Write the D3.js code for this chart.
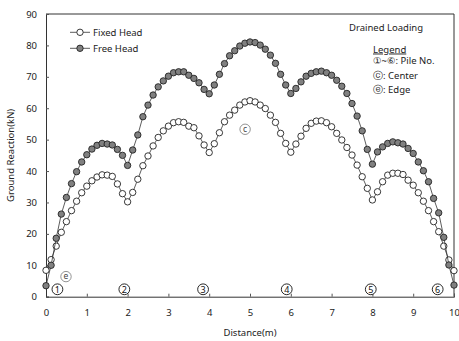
<!DOCTYPE html>
<html>
<head>
<meta charset="utf-8">
<script src="https://cdn.jsdelivr.net/npm/d3@7"></script>
<style>
  html, body { margin: 0; padding: 0; background: #fff; }
  svg { display: block; font-family: "Noto Sans", "DejaVu Sans", sans-serif; }
</style>
</head>
<body>
<svg id="chart" width="459" height="341"></svg>
<script>
// Distance along the raft (m), one node every 0.125 m
const distance = d3.range(0, 81).map(i => i * 0.125);

// Ground reaction (kN) at each node
const fixedHead = [
  8.4, 11.8, 16.1, 20.5, 23.9, 27.4, 30.4, 33.1, 35.2, 36.9,
  38.1, 38.8, 38.7, 38.3, 35.9, 32.8, 30.2, 33.2, 37.4, 41.7,
  44.8, 48.0, 50.7, 52.8, 54.3, 55.4, 55.7, 55.5, 54.3, 53.8,
  51.2, 48.3, 45.9, 48.7, 52.2, 55.7, 57.8, 59.4, 61.0, 62.0,
  62.4, 62.0, 61.0, 59.9, 57.8, 55.5, 52.0, 48.8, 46.0, 48.6,
  51.1, 53.6, 55.2, 55.9, 56.0, 55.4, 54.1, 52.0, 49.9, 47.5,
  45.1, 41.9, 38.2, 34.5, 30.8, 33.4, 36.6, 38.7, 39.3, 39.3,
  38.9, 37.1, 35.5, 33.1, 30.4, 27.4, 23.9, 20.7, 16.1, 11.7,
  8.3
];
const freeHead = [
  3.5, 10.0, 18.6, 26.3, 31.6, 36.0, 39.8, 42.9, 45.2, 47.0,
  48.2, 48.8, 48.6, 48.3, 46.9, 45.0, 41.8, 46.7, 51.5, 57.3,
  61.0, 64.2, 66.8, 68.7, 70.2, 71.3, 71.6, 71.6, 70.5, 69.5,
  68.1, 66.0, 64.6, 67.4, 70.8, 74.2, 76.7, 78.3, 79.8, 80.7,
  81.1, 80.9, 80.1, 78.8, 76.9, 74.3, 70.8, 67.4, 64.7, 66.3,
  68.4, 70.2, 71.1, 71.6, 71.8, 71.3, 70.5, 68.9, 67.0, 64.7,
  61.5, 57.5, 52.8, 46.9, 42.2, 46.1, 47.7, 48.8, 49.3, 49.0,
  48.6, 47.2, 45.6, 42.9, 40.1, 36.6, 31.3, 26.7, 18.9, 10.1,
  3.7
];

// Axis ticks
const xTicks = [0, 1, 2, 3, 4, 5, 6, 7, 8, 9, 10];
const yTicks = [0, 10, 20, 30, 40, 50, 60, 70, 80, 90];

// Pile numbers and their positions along the raft (m)
const pileLabels = ["1", "2", "3", "4", "5", "6"];
const pilePos = [0.28, 1.92, 3.85, 5.9, 7.96, 9.6];

// Point markers: center and edge of the raft
const spotLabels = ["c", "e"];
const spotPos = [[4.88, 53.3], [0.49, 6.4]];

const svg = d3.select("#chart");
const x = d3.scaleLinear().domain([0, 10]).range([46, 454]);
const y = d3.scaleLinear().domain([0, 90]).range([296.7, 14]);

// Frame (top and right sides)
svg.append("path")
  .attr("d", `M${x(0)},${y(90)}H${x(10)}V${y(0)}`)
  .attr("fill", "none").attr("stroke", "#333").attr("stroke-width", 1);

// Axes with inward ticks
const xAxis = svg.append("g").attr("transform", `translate(0,${y(0)})`)
  .call(d3.axisBottom(x).tickValues(xTicks).tickSize(-3).tickPadding(13).tickFormat(d3.format("d")));
const yAxis = svg.append("g").attr("transform", `translate(${x(0)},0)`)
  .call(d3.axisLeft(y).tickValues(yTicks).tickSize(-3).tickPadding(9).tickFormat(d3.format("d")));
[xAxis, yAxis].forEach(g => {
  g.select(".domain").attr("stroke", "#333");
  g.selectAll(".tick line").attr("stroke", "#555");
  g.selectAll(".tick text").attr("fill", "#222").attr("font-size", 9.5)
    .attr("font-family", "Noto Sans, DejaVu Sans, sans-serif");
});

// Axis titles
svg.append("text").attr("x", 250).attr("y", 336).attr("text-anchor", "middle")
  .attr("font-size", 9.5).attr("fill", "#222").text("Distance(m)");
svg.append("text").attr("transform", `translate(14,${y(45)}) rotate(-90)`)
  .attr("text-anchor", "middle").attr("font-size", 9.5).attr("fill", "#222")
  .text("Ground Reaction(kN)");

// Series
const series = [
  { name: "Fixed Head", values: fixedHead, fill: "#fff" },
  { name: "Free Head", values: freeHead, fill: "#808080" }
];
const line = d3.line().x((d, i) => x(distance[i])).y(d => y(d));

series.forEach(s => {
  const g = svg.append("g");
  g.append("path").datum(s.values).attr("d", line)
    .attr("fill", "none").attr("stroke", "#333").attr("stroke-width", 0.8);
  g.selectAll("circle").data(s.values).join("circle")
    .attr("cx", (d, i) => x(distance[i])).attr("cy", d => y(d)).attr("r", 3.2)
    .attr("fill", s.fill).attr("stroke", "#222").attr("stroke-width", 0.9);
});

// Circled pile numbers along the bottom
const piles = svg.selectAll("g.pile").data(pileLabels).join("g")
  .attr("class", "pile")
  .attr("transform", (d, i) => `translate(${x(pilePos[i])},289.3)`);
piles.append("circle").attr("r", 5.4).attr("fill", "#fff")
  .attr("stroke", "#111").attr("stroke-width", 0.9);
piles.append("text").attr("y", 3.3).attr("text-anchor", "middle")
  .attr("font-size", 9).attr("fill", "#111").text(d => d);

// Circled center / edge markers
const spots = svg.selectAll("g.spot").data(spotLabels).join("g")
  .attr("class", "spot")
  .attr("transform", (d, i) => `translate(${x(spotPos[i][0])},${y(spotPos[i][1])})`);
spots.append("circle").attr("r", 5.2).attr("fill", "#fff")
  .attr("stroke", "#777").attr("stroke-width", 0.8);
spots.append("text").attr("y", 2.6).attr("text-anchor", "middle")
  .attr("font-size", 8.5).attr("fill", "#444").text(d => d);

// Series legend
const leg = svg.append("g");
series.forEach((s, i) => {
  const ly = 32.3 + i * 16;
  leg.append("line").attr("x1", 70).attr("x2", 90).attr("y1", ly).attr("y2", ly)
    .attr("stroke", "#333").attr("stroke-width", 0.8);
  leg.append("circle").attr("cx", 80).attr("cy", ly).attr("r", 3.2)
    .attr("fill", s.fill).attr("stroke", "#222").attr("stroke-width", 0.9);
  leg.append("text").attr("x", 93).attr("y", ly + 3.5).attr("font-size", 9.5)
    .attr("fill", "#222").text(s.name);
});

// Notes, top right
svg.append("text").attr("x", 349).attr("y", 30.5).attr("font-size", 9.5).attr("fill", "#222")
  .text("Drained Loading");
svg.append("text").attr("x", 373).attr("y", 52.5).attr("font-size", 9.5).attr("fill", "#222")
  .attr("text-decoration", "underline").text("Legend");
const notes = ["①~⑥: Pile No.", "ⓒ: Center", "ⓔ: Edge"];
svg.selectAll("text.note").data(notes).join("text")
  .attr("class", "note")
  .attr("x", 373).attr("y", (d, i) => 64 + i * 14.7)
  .attr("font-size", 9.5).attr("fill", "#222").text(d => d);
</script>
</body>
</html>
